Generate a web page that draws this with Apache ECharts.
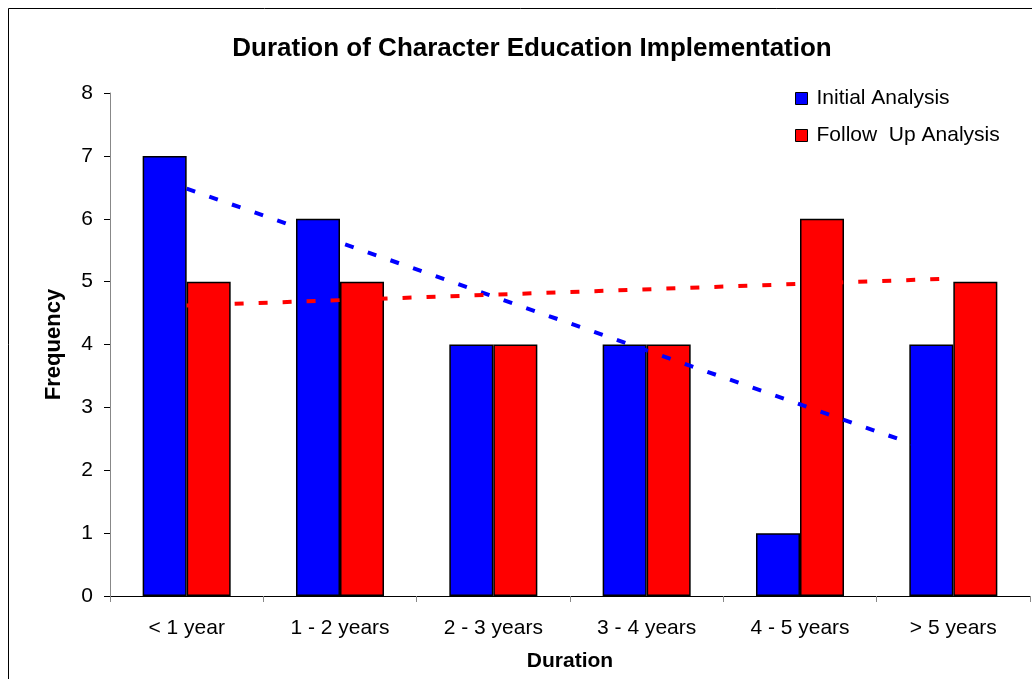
<!DOCTYPE html>
<html>
<head>
<meta charset="utf-8">
<script src="https://cdn.jsdelivr.net/npm/echarts@6/dist/echarts.min.js"></script>
<style>
  html, body { margin: 0; padding: 0; background: #fff; }
  #chart { width: 1032px; height: 679px; }
</style>
</head>
<body>
<div id="chart"></div>
<script>
// categories and values
const categories = ['< 1 year', '1 - 2 years', '2 - 3 years', '3 - 4 years', '4 - 5 years', '> 5 years']
const initialAnalysis = [7, 6, 4, 4, 1, 4]
const followUpAnalysis = [5, 5, 4, 4, 6, 5]
// trend lines: values read at the first and last category centre
const initialTrend = [6.48, null, null, null, null, 2.19]
const followUpTrend = [4.62, null, null, null, null, 5.05]
const yTicks = [0, 1, 2, 3, 4, 5, 6, 7, 8]

const chart = echarts.init(document.getElementById('chart'))
const font = 'Liberation Sans, Arial, sans-serif'

const option = {
  backgroundColor: '#fff',
  animation: false,
  textStyle: { fontFamily: font },
  title: {
    text: 'Duration of Character Education Implementation',
    left: 527,
    textAlign: 'center',
    top: 31,
    textStyle: { fontFamily: font, fontSize: 26, fontWeight: 'bold', color: '#000' }
  },
  graphic: [
    {
      type: 'rect',
      shape: { x: 8.5, y: 8.5, width: 1040, height: 690 },
      style: { fill: null, stroke: '#000', lineWidth: 1 },
      silent: true
    }
  ],
  legend: {
    orient: 'vertical',
    left: 790,
    top: 83,
    icon: 'rect',
    itemWidth: 12,
    itemHeight: 12,
    itemGap: 16,
    itemStyle: { borderColor: '#000', borderWidth: 1 },
    data: ['Initial Analysis', 'Follow  Up Analysis'],
    textStyle: { fontFamily: font, fontSize: 21, color: '#000', padding: [0, 0, 0, 4] }
  },
  grid: { left: 110, right: 2, top: 93, bottom: 83, containLabel: false },
  xAxis: {
    type: 'category',
    data: categories,
    name: 'Duration',
    nameLocation: 'middle',
    nameGap: 55,
    nameTextStyle: { fontFamily: font, fontSize: 21, fontWeight: 'bold', color: '#000' },
    axisLine: { lineStyle: { color: '#000', width: 1 } },
    axisTick: { show: true, length: 6, lineStyle: { color: '#888' } },
    axisLabel: { fontFamily: font, fontSize: 21, color: '#000', margin: 22 },
    splitLine: { show: false }
  },
  yAxis: {
    type: 'value',
    min: 0,
    max: yTicks[yTicks.length - 1],
    interval: 1,
    name: 'Frequency',
    nameLocation: 'middle',
    nameGap: 45,
    nameRotate: 90,
    nameTextStyle: { fontFamily: font, fontSize: 22, fontWeight: 'bold', color: '#000' },
    axisLine: { show: true, lineStyle: { color: '#888', width: 1 } },
    axisTick: { show: true, length: 6, lineStyle: { color: '#000' } },
    axisLabel: { fontFamily: font, fontSize: 21, color: '#000', margin: 17 },
    splitLine: { show: false }
  },
  series: [
    {
      name: 'Initial Analysis',
      type: 'bar',
      data: initialAnalysis,
      barWidth: '28.7%',
      barGap: '0%',
      itemStyle: { color: '#0000ff', borderColor: '#000', borderWidth: 1.5 }
    },
    {
      name: 'Follow  Up Analysis',
      type: 'bar',
      data: followUpAnalysis,
      barWidth: '28.7%',
      barGap: '0%',
      itemStyle: { color: '#ff0000', borderColor: '#000', borderWidth: 1.5 }
    },
    {
      name: 'Initial trend',
      type: 'line',
      data: initialTrend,
      connectNulls: true,
      symbol: 'none',
      z: 5,
      lineStyle: { color: '#0000ff', width: 4, type: [9, 15] }
    },
    {
      name: 'Follow up trend',
      type: 'line',
      data: followUpTrend,
      connectNulls: true,
      symbol: 'none',
      z: 5,
      lineStyle: { color: '#ff0000', width: 4, type: [9, 15] }
    }
  ]
}

chart.setOption(option)
</script>
</body>
</html>
